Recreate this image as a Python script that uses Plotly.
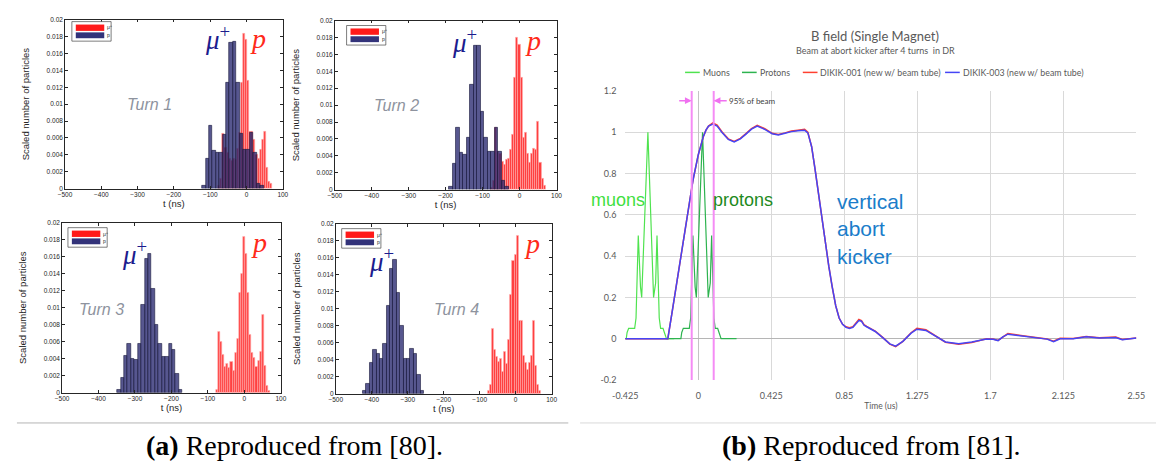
import plotly.graph_objects as go

W, H = 1165, 468

# ---------------- (a) histogram data ----------------
red_t = [-75.0, -69.3, -63.6, -57.9, -52.2, -46.5, -40.8, -35.1, -29.4, -23.7, -18.0, -12.3, -6.6,
         -0.9, 4.8, 10.5, 16.2, 21.9, 27.6, 33.3, 39.0, 44.7, 50.4, 56.1, 61.8, 67.5]
red_turn1 = [0.0003, 0.0012, 0.0065, 0.0048, 0.0042, 0.0035, 0.0033, 0.0036, 0.0034, 0.0047, 0.0066, 0.0125, 0.0184,
             0.0176, 0.0128, 0.0068, 0.0068, 0.0058, 0.0040, 0.0035, 0.0046, 0.0058, 0.0067, 0.0025, 0.0008, 0.0006]
red_turn2 = [0.0002, 0.0010, 0.0073, 0.0045, 0.0043, 0.0033, 0.0030, 0.0035, 0.0037, 0.0047, 0.0065, 0.0133, 0.0180,
             0.0172, 0.0133, 0.0062, 0.0068, 0.0043, 0.0032, 0.0043, 0.0048, 0.0047, 0.0081, 0.0032, 0.0013, 0.0005]
red_turn3 = [0.0003, 0.0072, 0.0060, 0.0045, 0.0031, 0.0034, 0.0029, 0.0036, 0.0026, 0.0047, 0.0063, 0.0118, 0.0140,
             0.0184, 0.0163, 0.0118, 0.0068, 0.0047, 0.0041, 0.0030, 0.0037, 0.0048, 0.0092, 0.0032, 0.0008, 0.0002]
red_turn4 = [0.0003, 0.0010, 0.0076, 0.0052, 0.0044, 0.0037, 0.0041, 0.0026, 0.0049, 0.0035, 0.0063, 0.0117, 0.0157,
             0.0163, 0.0186, 0.0086, 0.0086, 0.0045, 0.0036, 0.0028, 0.0036, 0.0045, 0.0086, 0.0033, 0.0011, 0.0003]

blue_t1 = [-117.6, -108.2, -98.8, -89.4, -80.0, -70.6, -61.2, -51.8, -42.4, -33.0, -23.6, -14.2, -4.8, 4.6, 14.0, 23.4, 32.8, 42.2]
blue_h1 = [0.0003, 0.0035, 0.0075, 0.0045, 0.0043, 0.0043, 0.0064, 0.0126, 0.0173, 0.0174, 0.0125, 0.0065, 0.0046, 0.0046, 0.0066, 0.0042, 0.0006, 0.0003]
blue_t2 = [-185.6, -176.2, -166.8, -157.4, -148.0, -138.6, -129.2, -119.8, -110.4, -101.0, -91.6, -82.2, -72.8, -63.4, -54.0, -44.6, -35.2]
blue_h2 = [0.0003, 0.0031, 0.0073, 0.0044, 0.0041, 0.0062, 0.0124, 0.0170, 0.0170, 0.0092, 0.0062, 0.0045, 0.0045, 0.0073, 0.0045, 0.0010, 0.0003]
blue_t3 = [-344.0, -334.6, -325.2, -315.8, -306.4, -297.0, -287.6, -278.2, -268.8, -259.4, -250.0, -240.6, -231.2, -221.8, -212.4, -203.0, -193.6, -184.2, -174.8]
blue_h3 = [0.0003, 0.0018, 0.0044, 0.0058, 0.0040, 0.0039, 0.0058, 0.0104, 0.0158, 0.0163, 0.0122, 0.0080, 0.0058, 0.0042, 0.0042, 0.0058, 0.0051, 0.0022, 0.0003]
blue_t4 = [-420.2, -410.8, -401.4, -392.0, -382.6, -373.2, -363.8, -354.4, -345.0, -335.6, -326.2, -316.8, -307.4, -298.0, -288.6, -279.2, -269.8, -260.4]
blue_h4 = [0.0003, 0.0012, 0.0036, 0.0052, 0.0047, 0.0041, 0.0059, 0.0103, 0.0147, 0.0158, 0.0119, 0.0080, 0.0041, 0.0041, 0.0053, 0.0047, 0.0022, 0.0003]

turn_labels = ["Turn 1", "Turn 2", "Turn 3", "Turn 4"]
hist_legend_names = ["μ<sup>+</sup>", "p"]
hist_xticks = [-500, -400, -300, -200, -100, 0, 100]
hist_yticks = [0, 0.002, 0.004, 0.006, 0.008, 0.01, 0.012, 0.014, 0.016, 0.018, 0.02]
hist_yticktext = ["0", "0.002", "0.004", "0.006", "0.008", "0.01", "0.012", "0.014", "0.016", "0.018", "0.02"]

# ---------------- (b) B-field data ----------------
muon_x = [-0.425, -0.419, -0.414, -0.405, -0.370, -0.362, -0.349, -0.341, -0.336, -0.329, -0.293,
          -0.260, -0.253, -0.248, -0.240, -0.227, -0.219, -0.205, -0.197, -0.185, -0.140]
muon_y = [0, 0, 0.03, 0.05, 0.05, 0.10, 0.50, 0.27, 0.25, 0.20, 1.00,
          0.20, 0.25, 0.27, 0.50, 0.10, 0.05, 0.05, 0.03, 0, 0]
proton_x = [-0.180, -0.101, -0.096, -0.087, -0.052, -0.044, -0.031, -0.023, -0.018, -0.011, 0.025,
            0.058, 0.065, 0.070, 0.078, 0.091, 0.099, 0.113, 0.121, 0.133, 0.223]
proton_y = [0, 0, 0.03, 0.05, 0.05, 0.10, 0.50, 0.27, 0.25, 0.20, 1.00,
            0.20, 0.25, 0.27, 0.50, 0.10, 0.05, 0.05, 0.03, 0, 0]
kick_x = [-0.425, -0.177, -0.15, -0.12, -0.09, -0.06, -0.03, 0.0, 0.015, 0.03, 0.045, 0.06, 0.085, 0.11, 0.14, 0.175, 0.209,
          0.245, 0.276, 0.31, 0.343, 0.39, 0.43, 0.466, 0.505, 0.542, 0.58, 0.619, 0.638, 0.66, 0.68, 0.70,
          0.72, 0.74, 0.76, 0.78, 0.80, 0.82, 0.84, 0.86, 0.88, 0.90, 0.92, 0.935, 0.95, 0.965, 0.98, 1.0,
          1.03, 1.077, 1.115, 1.149, 1.191, 1.239, 1.273, 1.325, 1.382, 1.439, 1.516, 1.592, 1.678, 1.716,
          1.745, 1.773, 1.802, 1.878, 1.973, 2.03, 2.068, 2.106, 2.182, 2.258, 2.335, 2.392, 2.43, 2.468, 2.55]
dikik001_y = [0, 0, 0.14, 0.30, 0.46, 0.62, 0.77, 0.89, 0.94, 0.98, 1.01, 1.03, 1.045, 1.035, 1.0, 0.968, 0.956,
              0.970, 0.992, 1.018, 1.034, 1.016, 0.995, 0.989, 0.997, 1.006, 1.010, 1.014, 1.0, 0.93, 0.82, 0.70,
              0.58, 0.46, 0.35, 0.25, 0.16, 0.10, 0.07, 0.058, 0.053, 0.058, 0.078, 0.093, 0.088, 0.068, 0.060, 0.052,
              0.037, 0.004, -0.026, -0.038, -0.013, 0.029, 0.050, 0.043, 0.012, -0.017, -0.027, -0.018, 0.000, -0.002,
              -0.008, 0.010, 0.025, 0.016, 0.007, -0.001, -0.012, 0.002, 0.001, 0.011, 0.005, 0.005, 0.008, -0.004, 0.004]
dikik003_y = [0, 0, 0.14, 0.30, 0.46, 0.62, 0.77, 0.89, 0.94, 0.98, 1.01, 1.03, 1.040, 1.030, 0.997, 0.965, 0.953,
              0.968, 0.990, 1.015, 1.030, 1.013, 0.993, 0.987, 0.995, 1.003, 1.007, 1.010, 0.997, 0.93, 0.82, 0.70,
              0.58, 0.46, 0.35, 0.25, 0.16, 0.10, 0.07, 0.055, 0.050, 0.055, 0.075, 0.088, 0.085, 0.065, 0.058, 0.050,
              0.035, 0.003, -0.025, -0.036, -0.013, 0.027, 0.046, 0.040, 0.011, -0.016, -0.024, -0.016, -0.002, -0.003,
              -0.009, 0.009, 0.022, 0.013, 0.005, -0.002, -0.014, 0.000, 0.000, 0.009, 0.003, 0.003, 0.006, -0.005, 0.003]
beam_window = [-0.038, 0.090]
series_names = ["Muons", "Protons", "DIKIK-001 (new w/ beam tube)", "DIKIK-003 (new w/ beam tube)"]
series_colors = ["#4fe34f", "#2db34f", "#ff4030", "#4545f5"]
b_xticks = [-0.425, 0, 0.425, 0.85, 1.275, 1.7, 2.125, 2.55]
b_xticktext = ["-0.425", "0", "0.425", "0.85", "1.275", "1.7", "2.125", "2.55"]
b_yticks = [-0.2, 0, 0.2, 0.4, 0.6, 0.8, 1, 1.2]
b_yticktext = ["-0.2", "0", "0.2", "0.4", "0.6", "0.8", "1", "1.2"]


def dx(a, b):
    return [a / W, b / W]


def dy(top, bottom):
    return [1 - bottom / H, 1 - top / H]


def px(v):
    return v / W


def py(v):
    return 1 - v / H


fig = go.Figure()

panels = [
    (red_turn1, blue_t1, blue_h1, "", dx(53, 275), dy(14, 187)),
    (red_turn2, blue_t2, blue_h2, "2", dx(328, 554), dy(15, 188)),
    (red_turn3, blue_t3, blue_h3, "3", dx(50, 273), dy(222, 396)),
    (red_turn4, blue_t4, blue_h4, "4", dx(329, 549), dy(223, 397)),
]
legend_pos = [(60, 16), (340, 20), (56, 227), (335, 228)]
mu_pos = [(-120, 0.0178), (-188, 0.0176), (-340, 0.0164), (-412, 0.0157)]
p_pos = [(32, 0.0178), (36, 0.0177), (40, 0.0177), (46, 0.0177)]
turn_pos = [(-268, 0.0099), (-333, 0.0099), (-392, 0.0098), (-165, 0.0099)]

MAT = "#262626"
RED_FILL = "rgba(255,0,0,0.75)"
BLUE_FILL = "rgba(40,40,112,0.78)"
layout_extra = {}
annotations = []
shapes = []
for i, (red_h, bt, bh, s, xd, yd) in enumerate(panels):
    xa, ya = "x" + s, "y" + s
    fig.add_trace(go.Bar(x=red_t, y=red_h, width=5.7, xaxis=xa, yaxis=ya, name=hist_legend_names[0],
                         showlegend=False,
                         marker=dict(color=RED_FILL, line=dict(color="rgba(255,175,175,1)", width=0.6))))
    fig.add_trace(go.Bar(x=bt, y=bh, width=9.4, xaxis=xa, yaxis=ya, name=hist_legend_names[1], showlegend=False,
                         marker=dict(color=BLUE_FILL, line=dict(color="rgba(25,25,60,1)", width=0.6))))
    layout_extra["xaxis" + s] = dict(
        domain=xd, anchor=ya, range=[-500, 100], tickvals=hist_xticks, ticks="inside", ticklen=3,
        tickwidth=0.6, tickcolor=MAT, showline=True, linecolor=MAT, linewidth=0.6, mirror="ticks",
        showgrid=False, zeroline=False, tickfont=dict(family="Liberation Sans", size=6.5, color=MAT),
        title=dict(text="t (ns)", font=dict(family="Liberation Sans", size=9.5, color=MAT), standoff=1))
    layout_extra["yaxis" + s] = dict(
        domain=yd, anchor=xa, range=[0, 0.02], tickvals=hist_yticks, ticktext=hist_yticktext, ticks="inside",
        ticklen=3, tickwidth=0.6, tickcolor=MAT, showline=True, linecolor=MAT, linewidth=0.6, mirror="ticks",
        showgrid=False, zeroline=False, tickfont=dict(family="Liberation Sans", size=6.5, color=MAT),
        title=dict(text="Scaled number of particles", font=dict(family="Liberation Sans", size=9.5, color=MAT),
                   standoff=15))
    # small MATLAB-style legend box
    lx, ly = legend_pos[i]
    shapes.append(dict(type="rect", xref="paper", yref="paper", x0=px(lx), x1=px(lx + 40), y0=py(ly + 20),
                       y1=py(ly), line=dict(color=MAT, width=0.6), fillcolor="white"))
    shapes.append(dict(type="rect", xref="paper", yref="paper", x0=px(lx + 4), x1=px(lx + 33), y0=py(ly + 9.5),
                       y1=py(ly + 3), line=dict(width=0), fillcolor="#ff1a1a"))
    shapes.append(dict(type="rect", xref="paper", yref="paper", x0=px(lx + 4), x1=px(lx + 33), y0=py(ly + 17),
                       y1=py(ly + 11), line=dict(width=0), fillcolor="#33337a"))
    annotations.append(dict(x=px(lx + 34), y=py(ly + 6), xref="paper", yref="paper", xanchor="left",
                            yanchor="middle", showarrow=False, text=hist_legend_names[0],
                            font=dict(family="Liberation Sans", size=5, color=MAT)))
    annotations.append(dict(x=px(lx + 34), y=py(ly + 14), xref="paper", yref="paper", xanchor="left",
                            yanchor="middle", showarrow=False, text=hist_legend_names[1],
                            font=dict(family="Liberation Sans", size=5, color=MAT)))
    annotations.append(dict(x=mu_pos[i][0], y=mu_pos[i][1], xref=xa, yref=ya, showarrow=False,
                            xanchor="left", yanchor="middle", text="<i>μ</i><sup>+</sup>",
                            font=dict(family="Liberation Serif", size=27, color="#1c1c8e")))
    annotations.append(dict(x=p_pos[i][0], y=p_pos[i][1], xref=xa, yref=ya, showarrow=False,
                            xanchor="center", yanchor="middle",
                            text="<i>p</i>", font=dict(family="Liberation Serif", size=28, color="#ff2a1a")))
    annotations.append(dict(x=turn_pos[i][0], y=turn_pos[i][1], xref=xa, yref=ya, showarrow=False,
                            xanchor="center", yanchor="middle", text="<i>" + turn_labels[i] + "</i>",
                            font=dict(family="Liberation Sans", size=16, color="#8e939e")))

# ---------------- (b) traces ----------------
GR = "#595959"
b_series = [(muon_x, muon_y, 1.2), (proton_x, proton_y, 1.2), (kick_x, dikik001_y, 1.5), (kick_x, dikik003_y, 1.5)]
for (sx, sy, lw), nm, col in zip(b_series, series_names, series_colors):
    fig.add_trace(go.Scatter(x=sx, y=sy, mode="lines", name=nm, xaxis="x5", yaxis="y5",
                             line=dict(color=col, width=lw), showlegend=False))

# Excel-style legend row (short line keys)
legend_line_px = [685, 743, 805, 950]
for nm, col, lx in zip(series_names, series_colors, legend_line_px):
    shapes.append(dict(type="line", xref="paper", yref="paper", x0=px(lx), x1=px(lx + 15), y0=py(68), y1=py(68),
                       line=dict(color=col, width=1.5)))
    annotations.append(dict(x=px(lx + 16), y=py(68), xref="paper", yref="paper", xanchor="left",
                            yanchor="middle", showarrow=False, text=nm,
                            font=dict(family="Lato", size=8.8, color=GR)))

layout_extra["xaxis5"] = dict(
    domain=dx(624, 1145), anchor="y5", range=[-0.425, 2.55], tickvals=b_xticks, ticktext=b_xticktext,
    showgrid=True, gridcolor="#d9d9d9", gridwidth=1, zeroline=True, zerolinecolor="#c4c4c4", zerolinewidth=1,
    showline=False, ticks="outside", ticklen=7, tickcolor="rgba(0,0,0,0)",
    tickfont=dict(family="Lato", size=9, color=GR),
    title=dict(text="Time (us)", font=dict(family="Lato", size=8.5, color=GR), standoff=3))
layout_extra["yaxis5"] = dict(
    domain=dy(87, 383), anchor="x5", range=[-0.2, 1.2], tickvals=b_yticks, ticktext=b_yticktext,
    showgrid=True, gridcolor="#d9d9d9", gridwidth=1, zeroline=True, zerolinecolor="#b5b5b5", zerolinewidth=1,
    showline=False, ticks="outside", ticklen=6, tickcolor="rgba(0,0,0,0)",
    tickfont=dict(family="Lato", size=9, color=GR))

for bx in beam_window:
    shapes.append(dict(type="line", xref="x5", yref="y5 domain", x0=bx, x1=bx, y0=0, y1=1,
                       line=dict(color="#f58cf5", width=2)))
# separator rules under the two figures
shapes.append(dict(type="line", xref="paper", yref="paper", x0=px(4), x1=px(566), y0=py(427), y1=py(427),
                   line=dict(color="#b4b4b4", width=1)))
shapes.append(dict(type="line", xref="paper", yref="paper", x0=px(578), x1=1, y0=py(427), y1=py(427),
                   line=dict(color="#d9d9d9", width=1)))

annotations += [
    dict(x=beam_window[0], y=1.153, xref="x5", yref="y5", ax=-14, ay=0, showarrow=True, text="",
         arrowhead=2, arrowsize=0.9, arrowwidth=1.5, arrowcolor="#f070f0"),
    dict(x=beam_window[1], y=1.153, xref="x5", yref="y5", ax=13, ay=0, showarrow=True, text="95% of beam",
         xanchor="left", arrowhead=2, arrowsize=0.9, arrowwidth=1.5, arrowcolor="#f070f0",
         font=dict(family="Lato", size=8, color="#404040")),
    dict(x=px(587), y=py(199), xref="paper", yref="paper", xanchor="left", yanchor="middle", showarrow=False,
         text="muons", font=dict(family="Liberation Sans", size=18, color="#3fe03f")),
    dict(x=0.072, y=0.67, xref="x5", yref="y5", xanchor="left", yanchor="middle", showarrow=False,
         text="protons", font=dict(family="Liberation Sans", size=18, color="#1f8a22")),
    dict(x=0.798, y=0.533, xref="x5", yref="y5", xanchor="left", yanchor="middle", align="left",
         showarrow=False, text="vertical<br>abort<br>kicker",
         font=dict(family="Liberation Sans", size=21, color="#1a7dca")),
    dict(x=px(879), y=py(31), xref="paper", yref="paper", xanchor="center", yanchor="middle", showarrow=False,
         text="B field (Single Magnet)", font=dict(family="Lato", size=13, color=GR)),
    dict(x=px(879), y=py(46), xref="paper", yref="paper", xanchor="center", yanchor="middle", showarrow=False,
         text="Beam at abort kicker after 4 turns  in DR", font=dict(family="Lato", size=9, color=GR)),
    dict(x=px(287), y=py(450), xref="paper", yref="paper", xanchor="center", yanchor="middle", showarrow=False,
         text="<b>(a)</b> Reproduced from [80].", font=dict(family="Liberation Serif", size=28, color="black")),
    dict(x=px(875), y=py(450), xref="paper", yref="paper", xanchor="center", yanchor="middle", showarrow=False,
         text="<b>(b)</b> Reproduced from [81].", font=dict(family="Liberation Serif", size=28, color="black")),
]

fig.update_layout(
    width=W, height=H, margin=dict(l=0, r=0, t=0, b=0), paper_bgcolor="white", plot_bgcolor="white",
    barmode="overlay", bargap=0, showlegend=False, annotations=annotations, shapes=shapes, **layout_extra)

fig.write_html("out.html")
